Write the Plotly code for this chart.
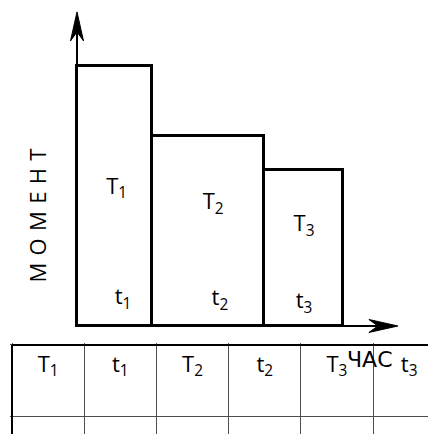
"""Load diagram: stepped moment vs time with the T/t summary table below."""
import plotly.graph_objects as go

# Data: three load steps (duration along the time axis, moment height)
durations = [2.0, 3.0, 2.1]
moments = [10.0, 7.3, 6.0]
moment_labels = ["T<sub>1</sub>", "T<sub>2</sub>", "T<sub>3</sub>"]
time_labels = ["t<sub>1</sub>", "t<sub>2</sub>", "t<sub>3</sub>"]
table_header = [lab for pair in zip(moment_labels, time_labels) for lab in pair]
y_title = "\u2004".join("МОМЕНТ")
x_title = "ЧАС"

# Layout constants (axis ends and label spots inside the bars)
X_AXIS_END = 8.58
Y_AXIS_END = 12.08
T_DX = [0.06, 0.14, 0.02]
T_Y = [5.3, 4.7, 3.85]
t_DX = [0.23, 0.32, 0.02]
t_Y = [1.05, 1.0, 0.9]
LABEL_FONT = dict(family="Open Sans", size=22, color="black")

lefts = []
acc = 0.0
for d in durations:
    lefts.append(acc)
    acc += d
centers = [l + d / 2 for l, d in zip(lefts, durations)]

fig = go.Figure()

fig.add_trace(go.Bar(
    x=centers, y=moments, width=durations,
    marker=dict(color="white", line=dict(color="black", width=3)),
    hoverinfo="skip", showlegend=False,
))

fig.add_trace(go.Scatter(
    x=[c + dx for c, dx in zip(centers, T_DX)], y=T_Y,
    mode="text", text=moment_labels, textfont=LABEL_FONT,
    hoverinfo="skip", showlegend=False, cliponaxis=False,
))
fig.add_trace(go.Scatter(
    x=[c + dx for c, dx in zip(centers, t_DX)], y=t_Y,
    mode="text", text=time_labels, textfont=LABEL_FONT,
    hoverinfo="skip", showlegend=False, cliponaxis=False,
))

# table under the chart: one column per label
fig.add_trace(go.Scatter(
    x=[i + 0.5 for i in range(len(table_header))], y=[-0.3] * len(table_header),
    mode="text", text=table_header, textfont=LABEL_FONT,
    xaxis="x2", yaxis="y2", hoverinfo="skip", showlegend=False,
))

# axes with arrowheads
axis_line = dict(color="black", width=2)
fig.add_shape(type="line", xref="x", yref="y", x0=0, y0=0, x1=X_AXIS_END - 0.3, y1=0, line=axis_line)
fig.add_shape(type="line", xref="x", yref="y", x0=0, y0=0, x1=0, y1=Y_AXIS_END - 0.5, line=axis_line)
fig.add_shape(type="path", xref="x", yref="y", xsizemode="pixel", ysizemode="pixel",
              xanchor=X_AXIS_END, yanchor=0,
              path="M0,0 L-29,6.5 L-20,0 L-29,-6.5 Z",
              fillcolor="black", line=dict(color="black", width=1))
fig.add_shape(type="path", xref="x", yref="y", xsizemode="pixel", ysizemode="pixel",
              xanchor=0, yanchor=Y_AXIS_END,
              path="M0,0 L-6.5,-29 L0,-20 L6.5,-29 Z",
              fillcolor="black", line=dict(color="black", width=1))

# table outer borders
border = dict(color="black", width=2)
fig.add_shape(type="line", xref="x2", yref="y2", x0=0, y0=0, x1=7, y1=0, line=border)
fig.add_shape(type="line", xref="x2", yref="y2", x0=0, y0=0, x1=0, y1=-2, line=border)

fig.add_annotation(text=x_title, xref="x", yref="y", x=7.83, y=-1.27, showarrow=False,
                   font=dict(family="DejaVu Sans", size=22, color="black"))
fig.add_annotation(text=y_title, xref="paper", yref="paper", x=28.5 / 436, y=(434 - 208) / 434,
                   textangle=-90, showarrow=False, xanchor="center", yanchor="middle",
                   font=dict(family="Open Sans", size=22, color="black"))

grid = dict(showgrid=True, gridcolor="#4d4d4d", gridwidth=1, tick0=0, dtick=1,
            showticklabels=False, ticks="", zeroline=False, showline=False)

# the page body adds an 8px offset, so ranges are set for that
fig.update_layout(
    width=436, height=434,
    margin=dict(l=0, r=0, t=0, b=0),
    paper_bgcolor="white", plot_bgcolor="white",
    xaxis=dict(domain=[0, 1], range=[-1.845, 9.813], visible=False),
    yaxis=dict(domain=[0, 1], range=[-4.462, 12.231], visible=False),
    xaxis2=dict(domain=[2 / 436, 1], range=[-0.0277, 5.983], anchor="y2", **grid),
    yaxis2=dict(domain=[0, 99 / 434], range=[-1.366, 0.028], anchor="x2", **grid),
    bargap=0,
)

fig.write_html("out.html")
